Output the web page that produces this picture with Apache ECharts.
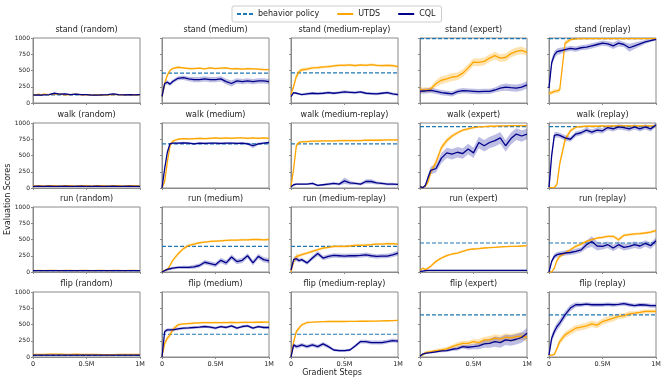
<!DOCTYPE html>
<html>
<head>
<meta charset="utf-8">
<script src="https://cdn.jsdelivr.net/npm/echarts@6/dist/echarts.min.js"></script>
<style>
  html, body { margin: 0; padding: 0; background: #fff; }
  #main { width: 664px; height: 380px; }
</style>
</head>
<body>
<div id="main"></div>
<script>
// gradient steps, in millions
var steps = [0, 0.025, 0.05, 0.075, 0.1, 0.15, 0.2, 0.25, 0.3, 0.35, 0.4, 0.45, 0.5, 0.55, 0.6, 0.65, 0.7, 0.75, 0.8, 0.85, 0.9, 0.95, 1.0];
var tasks = ['stand', 'walk', 'run', 'flip'];
var datasets = ['random', 'medium', 'medium-replay', 'expert', 'replay'];
var xTickValues = [0, 0.5, 1];
var xTickLabels = ['0', '0.5M', '1M'];

// ---- stand ----
var standBehavior = [125, 460, 465, 990, 990];
var standUTDS = [
  [130,120,135,125,135,130,140,135,125,130,135,125,130,120,125,120,125,130,130,125,125,130,125],
  [100,300,430,500,530,550,540,530,530,535,525,540,530,535,540,525,530,520,530,525,520,515,515],
  [130,260,410,480,510,520,540,545,555,560,570,580,580,585,575,585,580,590,580,575,580,575,560],
  [215,195,205,200,215,300,350,370,400,410,460,540,630,625,640,690,730,690,700,760,795,810,780],
  [150,160,180,185,200,920,975,985,990,990,990,990,990,990,990,990,990,990,990,990,990,990,990]
];
var standUTDSStd = [
  [15,10,10,10,10,10,10,10,10,10,10,10,10,10,10,10,10,10,10,10,10,10,10],
  [20,30,30,20,15,15,15,15,15,15,15,15,15,15,15,15,15,15,15,15,15,15,15],
  [20,40,50,40,30,25,20,20,20,20,20,20,20,20,20,20,20,20,20,20,20,20,20],
  [50,40,40,40,40,50,60,60,60,60,60,60,60,60,60,60,60,60,60,60,60,60,50],
  [30,30,30,30,40,40,20,10,10,10,10,10,10,10,10,10,10,10,10,10,10,10,10]
];
var standCQL = [
  [125,120,125,120,125,130,150,135,140,130,135,130,130,120,120,125,130,140,130,125,130,125,130],
  [100,300,320,290,330,380,390,370,360,360,370,360,360,370,330,300,340,330,340,330,340,340,330],
  [100,160,150,140,130,140,150,145,150,160,150,160,170,165,160,170,150,145,140,150,160,140,130],
  [180,185,185,190,195,180,160,150,140,175,190,185,180,175,180,180,200,230,245,235,230,245,280],
  [230,620,740,790,800,820,840,830,850,860,880,900,920,910,880,920,900,850,880,910,940,960,980]
];
var standCQLStd = [
  [10,10,10,10,10,10,10,10,10,10,10,10,10,10,10,10,10,10,10,10,10,10,10],
  [20,30,30,30,30,30,35,35,40,40,40,40,40,40,45,45,40,40,40,40,40,40,40],
  [20,15,15,15,15,20,20,20,20,20,20,20,25,20,20,20,20,20,20,20,20,20,20],
  [40,40,40,40,40,40,40,40,40,40,40,40,40,40,40,40,40,50,55,55,55,55,55],
  [30,60,60,50,50,40,40,40,40,40,40,40,40,40,50,50,40,60,50,40,30,20,20]
];

// ---- walk ----
var walkBehavior = [30, 680, 680, 945, 945];
var walkUTDS = [
  [35,30,35,35,30,35,35,30,35,35,30,35,35,30,35,35,30,35,35,30,35,35,30],
  [0,100,400,650,720,750,760,755,760,765,760,765,770,765,770,765,770,770,765,770,765,770,765],
  [20,300,650,700,710,715,720,720,725,725,725,730,730,730,730,730,735,735,735,735,740,740,740],
  [20,10,30,90,240,400,620,730,800,850,890,910,930,940,945,950,950,955,955,960,960,960,960],
  [10,5,10,60,370,740,880,935,945,950,950,950,955,950,955,955,955,955,955,955,955,955,955]
];
var walkUTDSStd = [
  [8,8,8,8,8,8,8,8,8,8,8,8,8,8,8,8,8,8,8,8,8,8,8],
  [5,30,40,30,20,15,15,15,15,15,15,15,15,15,15,15,15,15,15,15,15,15,15],
  [5,40,40,20,15,15,15,15,15,15,15,15,15,15,15,15,15,15,15,15,15,15,15],
  [10,10,20,30,40,50,50,40,30,25,20,20,15,15,10,10,10,10,10,10,10,10,10],
  [10,5,10,30,60,50,30,20,15,15,15,15,15,15,15,15,15,15,15,15,15,15,15]
];
var walkCQL = [
  [25,25,30,25,25,30,25,25,30,25,25,30,25,25,30,25,25,30,25,25,30,25,25],
  [0,300,550,680,690,690,695,690,680,690,685,690,690,685,690,690,685,690,680,650,680,690,700],
  [20,50,60,60,60,60,70,40,50,60,70,60,110,80,70,60,100,100,80,70,60,60,55],
  [20,5,40,160,270,300,460,540,520,550,530,600,540,700,650,700,730,770,650,760,830,800,830],
  [10,500,810,820,810,770,750,830,850,890,860,890,880,930,910,940,930,910,940,910,940,910,970]
];
var walkCQLStd = [
  [8,8,8,8,8,8,8,8,8,8,8,8,8,8,8,8,8,8,8,8,8,8,8],
  [5,30,30,20,15,15,15,15,15,15,15,15,15,15,15,15,15,15,20,40,20,15,15],
  [10,15,15,15,15,15,20,15,15,20,20,20,50,30,20,20,35,35,25,20,20,20,15],
  [10,10,20,40,60,60,80,80,80,80,80,80,80,90,90,90,90,90,90,90,90,90,80],
  [10,60,50,40,40,40,40,40,40,40,40,40,40,40,40,40,40,40,40,40,40,40,30]
];

// ---- run ----
var runBehavior = [20, 395, 395, 446, 446];
var runUTDS = [
  [25,20,25,25,20,25,25,20,25,25,20,25,25,20,25,25,20,25,25,20,25,25,20],
  [10,20,40,100,180,280,360,410,430,450,460,470,475,480,485,490,490,495,495,500,500,495,500],
  [0,164,240,250,267,292,318,343,369,380,395,395,395,400,410,410,415,420,430,430,435,435,430],
  [20,60,36,60,87,164,215,251,277,292,318,343,354,360,369,375,380,385,390,393,395,400,405],
  [0,0,60,180,241,292,343,395,430,472,497,523,533,549,549,497,564,575,585,590,600,615,636]
];
var runUTDSStd = [
  [6,6,6,6,6,6,6,6,6,6,6,6,6,6,6,6,6,6,6,6,6,6,6],
  [5,10,15,20,25,25,25,20,20,15,15,15,15,15,15,15,15,15,15,15,15,15,15],
  [10,40,40,30,25,20,20,20,20,20,20,20,20,20,20,20,20,20,15,15,15,15,15],
  [10,15,15,15,15,20,20,20,15,15,15,15,15,15,15,10,10,10,10,10,10,10,10],
  [5,5,20,30,30,25,25,25,25,20,20,20,20,20,20,30,20,20,20,20,20,20,25]
];
var runCQL = [
  [20,20,20,20,20,20,20,20,20,20,20,20,20,20,20,20,20,20,20,20,20,20,20],
  [0,20,40,50,60,70,70,70,80,100,150,130,110,180,140,230,160,180,250,140,240,190,170],
  [30,190,205,175,190,140,215,285,215,240,255,250,245,250,250,255,265,250,240,245,245,265,290],
  [10,15,20,25,25,25,25,25,25,25,25,25,25,25,25,25,25,25,25,25,25,25,25],
  [0,164,241,267,277,292,300,318,340,420,470,400,395,420,370,420,380,395,420,400,440,405,480]
];
var runCQLStd = [
  [5,5,5,5,5,5,5,5,5,5,5,5,5,5,5,5,5,5,5,5,5,5,5],
  [5,10,20,20,20,20,25,25,30,30,35,35,35,40,40,40,40,40,40,40,40,40,40],
  [15,40,40,30,30,30,35,40,35,35,35,35,35,35,35,35,35,35,35,35,35,35,40],
  [8,8,8,8,8,8,8,8,8,8,8,8,8,8,8,8,8,8,8,8,8,8,8],
  [5,30,40,40,40,40,40,40,40,60,80,70,50,50,50,50,50,50,50,50,50,50,50]
];

// ---- flip ----
var flipBehavior = [25, 350, 350, 649, 649];
var flipUTDS = [
  [40,40,40,40,40,45,45,45,40,40,45,40,40,40,40,35,35,35,40,40,40,40,40],
  [0,211,289,340,418,495,510,515,520,525,530,528,530,528,530,532,530,532,534,532,535,535,536],
  [0,237,392,443,495,531,535,540,545,546,546,546,546,548,548,550,550,552,552,555,558,560,562],
  [20,30,67,75,82,98,108,124,160,186,211,211,237,222,263,263,289,275,304,295,314,320,304],
  [30,30,40,134,237,340,392,443,459,479,510,490,546,572,598,624,634,665,675,686,701,701,701]
];
var flipUTDSStd = [
  [6,6,6,6,6,6,6,6,6,6,6,6,6,6,6,6,6,6,6,6,6,6,6],
  [5,40,40,40,40,20,15,15,15,15,15,15,15,15,15,15,15,15,15,15,15,15,15],
  [5,40,40,30,20,15,10,10,10,10,10,10,10,10,10,10,10,10,10,10,10,10,10],
  [10,20,20,20,20,20,30,30,30,40,40,40,40,50,50,60,60,60,60,60,60,60,60],
  [10,10,20,40,50,50,50,50,50,50,50,50,50,50,50,40,40,40,30,30,30,30,30]
];
var flipCQL = [
  [30,30,30,30,30,30,30,30,30,30,30,30,30,30,30,30,30,30,30,30,30,30,30],
  [0,392,418,418,418,433,443,448,454,460,469,460,445,469,454,479,445,469,479,445,469,454,454],
  [0,186,160,170,186,160,186,160,201,160,108,98,98,108,170,237,237,222,222,222,237,253,245],
  [10,46,57,62,67,80,93,98,119,130,160,150,160,170,201,211,237,222,263,253,273,300,366],
  [31,289,392,469,521,649,753,804,804,814,804,804,804,810,804,810,820,804,790,804,800,789,789]
];
var flipCQLStd = [
  [5,5,5,5,5,5,5,5,5,5,5,5,5,5,5,5,5,5,5,5,5,5,5],
  [10,30,25,25,25,20,20,20,20,20,20,20,20,20,20,20,20,20,20,20,20,20,20],
  [10,30,30,30,30,30,30,30,30,30,20,20,20,20,25,30,30,30,30,30,30,30,30],
  [10,15,15,15,15,15,20,20,25,30,30,40,40,50,60,70,80,80,80,80,80,80,80],
  [20,60,60,60,60,60,50,40,30,30,30,30,30,30,30,30,30,30,30,30,30,30,30]
];

var behaviorByTask = [standBehavior, walkBehavior, runBehavior, flipBehavior];
var utdsByTask = [standUTDS, walkUTDS, runUTDS, flipUTDS];
var utdsStdByTask = [standUTDSStd, walkUTDSStd, runUTDSStd, flipUTDSStd];
var cqlByTask = [standCQL, walkCQL, runCQL, flipCQL];
var cqlStdByTask = [standCQLStd, walkCQLStd, runCQLStd, flipCQLStd];

var FONT = 'DejaVu Sans';
var BLUE = '#1f77b4', ORANGE = '#ffa500', NAVY = '#00008b';
var SPINE = '#8a8a8a';
var colLeft = [33, 162, 291, 420, 549];
var rowTop = [38, 123, 207, 292];
var W = 107, H = 65;

var grids = [], xAxes = [], yAxes = [], titles = [], series = [];

// mean +/- std band, drawn as one polygon through the axis scales
function addBand(idx, mean, std, color) {
  var lo = mean.map(function (m, i) { return Math.max(0, m - std[i]); });
  var hi = mean.map(function (m, i) { return Math.min(1000, m + std[i]); });
  series.push({
    type: 'custom', xAxisIndex: idx, yAxisIndex: idx, silent: true, clip: true,
    data: steps.map(function (x, i) { return [x, lo[i], hi[i]]; }),
    encode: { x: 0, y: [1, 2] },
    renderItem: function (params, api) {
      if (params.dataIndex !== 0) return null;
      var pts = [], i;
      for (i = 0; i < steps.length; i++) pts.push(api.coord([steps[i], lo[i]]));
      for (i = steps.length - 1; i >= 0; i--) pts.push(api.coord([steps[i], hi[i]]));
      return { type: 'polygon', shape: { points: pts }, style: { fill: color } };
    }
  });
}

tasks.forEach(function (task, r) {
  datasets.forEach(function (ds, c) {
    var idx = r * 5 + c;
    grids.push({ left: colLeft[c], top: rowTop[r], width: W, height: H,
      show: true, borderColor: SPINE, borderWidth: 1, backgroundColor: 'transparent' });
    titles.push({ text: task + ' (' + ds + ')', left: colLeft[c] + W / 2, top: rowTop[r] - 12,
      textAlign: 'center', padding: 0,
      textStyle: { fontFamily: FONT, fontSize: 8, fontWeight: 'normal', color: '#222' } });
    xAxes.push({ gridIndex: idx, type: 'value', min: 0, max: 1, interval: 0.5,
      axisLine: { show: true, lineStyle: { color: SPINE, width: 1 } },
      axisTick: { show: true, length: 2, lineStyle: { color: SPINE } },
      splitLine: { show: false },
      axisLabel: { show: r === 3, margin: 4, fontFamily: FONT, fontSize: 6.5, color: '#222',
        formatter: function (v) { var k = xTickValues.indexOf(v); return k >= 0 ? xTickLabels[k] : ''; } } });
    yAxes.push({ gridIndex: idx, type: 'value', min: 0, max: 1000, interval: 250,
      axisLine: { show: true, lineStyle: { color: SPINE, width: 1 } },
      axisTick: { show: true, length: 2, lineStyle: { color: SPINE } },
      splitLine: { show: false },
      axisLabel: { show: c === 0, margin: 3, fontFamily: FONT, fontSize: 6, color: '#222',
        formatter: function (v) { return String(v); } } });

    var b = behaviorByTask[r][c];
    series.push({ name: 'behavior policy', type: 'line', xAxisIndex: idx, yAxisIndex: idx,
      symbol: 'none', silent: true, color: BLUE,
      lineStyle: { color: BLUE, width: 1.2, type: [4, 2] },
      data: [[0, b], [1, b]] });
    addBand(idx, utdsByTask[r][c], utdsStdByTask[r][c], 'rgba(255,165,0,0.3)');
    series.push({ name: 'UTDS', type: 'line', xAxisIndex: idx, yAxisIndex: idx,
      symbol: 'none', silent: true, color: ORANGE,
      lineStyle: { color: ORANGE, width: 1.3 },
      data: steps.map(function (x, i) { return [x, utdsByTask[r][c][i]]; }) });
    addBand(idx, cqlByTask[r][c], cqlStdByTask[r][c], 'rgba(40,40,170,0.3)');
    series.push({ name: 'CQL', type: 'line', xAxisIndex: idx, yAxisIndex: idx,
      symbol: 'none', silent: true, color: NAVY,
      lineStyle: { color: NAVY, width: 1.3 },
      data: steps.map(function (x, i) { return [x, cqlByTask[r][c][i]]; }) });
  });
});

var chart = echarts.init(document.getElementById('main'), null, { renderer: 'canvas' });
chart.setOption({
  animation: false,
  backgroundColor: '#fff',
  title: titles,
  grid: grids,
  xAxis: xAxes,
  yAxis: yAxes,
  legend: {
    data: [
      { name: 'behavior policy', icon: 'path://M0,0H4V2H0Z M6,0H10V2H6Z M12,0H16V2H12Z' },
      { name: 'UTDS', icon: 'path://M0,0H16V2H0Z' },
      { name: 'CQL', icon: 'path://M0,0H16V2H0Z' }
    ],
    left: 232, top: 6,
    itemWidth: 16, itemHeight: 2, itemGap: 18,
    padding: [4, 6, 4, 5],
    borderColor: '#cccccc', borderWidth: 1, borderRadius: 2,
    backgroundColor: '#fff',
    textStyle: { fontFamily: FONT, fontSize: 8, color: '#222' }
  },
  graphic: [
    { type: 'text', left: 'center', top: 369,
      style: { text: 'Gradient Steps', font: '8px "DejaVu Sans"', fill: '#222' } },
    { type: 'text', x: 4, y: 235, rotation: Math.PI / 2,
      style: { text: 'Evaluation Scores', font: '8px "DejaVu Sans"', fill: '#222' } }
  ],
  series: series
});
</script>
</body>
</html>
